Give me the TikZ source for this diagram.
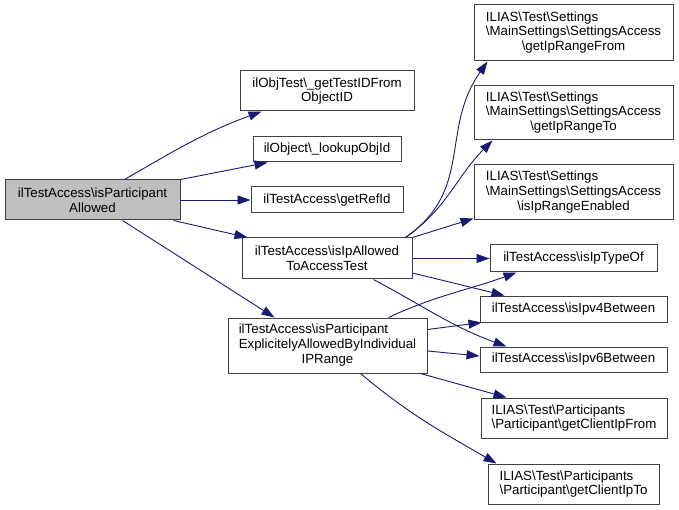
\documentclass[tikz,border=0pt]{standalone}
\usepackage{fontspec}
\setmainfont{Liberation Sans}
\usepackage{tikz}
\usetikzlibrary{arrows.meta}
\definecolor{edgeblue}{HTML}{191970}
\definecolor{boxline}{HTML}{404040}
\definecolor{rootgray}{HTML}{BFBFBF}
\newcommand{\bsl}{\textbackslash}
\newcommand{\threelines}[3]{\begin{tabular}{@{}l@{}}#1\\#2\\\multicolumn{1}{@{}c@{}}{#3}\end{tabular}}

\begin{document}
\begin{tikzpicture}[x=1pt,y=-1pt,
		fn/.style={draw=boxline,line width=1pt,fill=white,inner sep=0pt,align=center,
			font=\fontsize{13.3}{14.7}\selectfont},
		call/.style={draw=edgeblue,line width=0.9pt,-{Triangle[length=13pt,width=9pt]}}]
		\useasboundingbox (0,0) rectangle (679,510);
		% left and middle column
		\node[fn,fill=rootgray,minimum width=175pt,minimum height=40pt] (root) at (92.5,200) {ilTestAccess\bsl isParticipant\\Allowed};
		\node[fn,minimum width=174pt,minimum height=40pt] (testid) at (327,91) {ilObjTest\bsl\_getTestIDFrom\\ObjectID};
		\node[fn,minimum width=148pt,minimum height=25pt] (lookup) at (327,149.5) {ilObject\bsl\_lookupObjId};
		\node[fn,minimum width=152pt,minimum height=26pt] (refid) at (327,200) {ilTestAccess\bsl getRefId};
		\node[fn,minimum width=170pt,minimum height=41pt] (allowed) at (327,258.5) {ilTestAccess\bsl isIpAllowed\\ToAccessTest};
		\node[fn,minimum width=199pt,minimum height=55pt] (explicit) at (327.5,345.5) {\threelines{ilTestAccess\bsl isParticipant}{ExplicitelyAllowedByIndividual}{IPRange}};
		% right column
		\node[fn,minimum width=199pt,minimum height=56pt] (rangefrom) at (573.5,33) {\threelines{ILIAS\bsl Test\bsl Settings}{\bsl MainSettings\bsl SettingsAccess}{\bsl getIpRangeFrom}};
		\node[fn,minimum width=199pt,minimum height=54pt] (rangeto) at (573.5,113) {\threelines{ILIAS\bsl Test\bsl Settings}{\bsl MainSettings\bsl SettingsAccess}{\bsl getIpRangeTo}};
		\node[fn,minimum width=199pt,minimum height=55pt] (rangeon) at (573.5,192.5) {\threelines{ILIAS\bsl Test\bsl Settings}{\bsl MainSettings\bsl SettingsAccess}{\bsl isIpRangeEnabled}};
		\node[fn,minimum width=167pt,minimum height=27pt] (typeof) at (573.5,258.5) {ilTestAccess\bsl isIpTypeOf};
		\node[fn,minimum width=187pt,minimum height=26pt] (vfour) at (573.5,309) {ilTestAccess\bsl isIpv4Between};
		\node[fn,minimum width=187pt,minimum height=25pt] (vsix) at (573.5,359.5) {ilTestAccess\bsl isIpv6Between};
		\node[fn,align=left,minimum width=186pt,minimum height=40pt] (clientfrom) at (574,418) {ILIAS\bsl Test\bsl Participants\\\bsl Participant\bsl getClientIpFrom};
		\node[fn,align=left,minimum width=171pt,minimum height=40pt] (clientto) at (573.5,484) {ILIAS\bsl Test\bsl Participants\\\bsl Participant\bsl getClientIpTo};
		% calls of the root
		\draw[call] ([xshift=32pt]root.north) to[out=30,in=200] ([xshift=22pt]testid.south west);
		\draw[call] (root.north east) -- ([xshift=15pt]lookup.south west);
		\draw[call] (root.east) -- (refid.west);
		\draw[call] ([xshift=-7pt]root.south east) -- ([xshift=6pt]allowed.north west);
		\draw[call] ([xshift=30pt]root.south) -- ([xshift=47pt]explicit.north west);
		% calls of isIpAllowedToAccessTest
		\draw[call] ([xshift=-7pt]allowed.north east) to[out=35,in=235,looseness=1.1] ([xshift=14pt]rangefrom.south west);
		\draw[call] ([xshift=-7pt]allowed.north east) to[out=35,in=225] ([xshift=19pt]rangeto.south west);
		\draw[call] (allowed.north east) -- ([yshift=2pt]rangeon.south west);
		\draw[call] (allowed.east) -- (typeof.west);
		\draw[call] ([yshift=-14.5pt]allowed.east) -- ([xshift=25pt]vfour.north west);
		\draw[call] ([xshift=-39pt]allowed.south east) to[out=-28,in=160] ([xshift=27pt]vsix.north west);
		% calls of isParticipantExplicitelyAllowedByIndividualIPRange
		\draw[call] ([xshift=-39pt]explicit.north east) to[out=25,in=200] ([xshift=27pt]typeof.south west);
		\draw[call] ([yshift=-12pt]explicit.north east) -- ([xshift=2pt]vfour.south west);
		\draw[call] ([yshift=-5.5pt]explicit.east) -- ([yshift=3.5pt]vsix.west);
		\draw[call] ([xshift=-7pt]explicit.south east) -- ([xshift=26pt]clientfrom.north west);
		\draw[call] ([xshift=-67pt]explicit.south east) to[out=-40,in=150] ([xshift=9pt]clientto.north west);
	\end{tikzpicture}
\end{document}
